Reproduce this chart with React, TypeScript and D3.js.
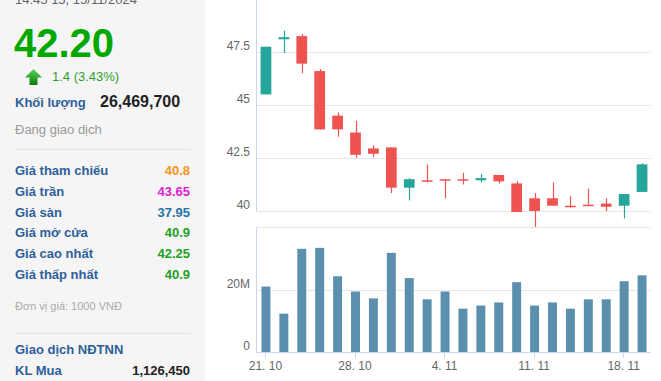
import React from "react";
import * as d3 from "d3";

const dates = [
  "21. 10", "22. 10", "23. 10", "24. 10", "25. 10",
  "28. 10", "29. 10", "30. 10", "31. 10", "1. 11",
  "4. 11", "5. 11", "6. 11", "7. 11", "8. 11",
  "11. 11", "12. 11", "13. 11", "14. 11", "15. 11",
  "18. 11", "19. 11",
];
const opens = [45.5, 48.1, 48.25, 46.6, 44.5, 43.7, 42.95, 43.0, 41.1, 41.45, 41.5, 41.5, 41.45, 41.7, 41.3, 40.6, 40.6, 40.25, 40.3, 40.35, 40.25, 40.9];
const highs = [47.75, 48.5, 48.35, 46.7, 44.65, 44.25, 43.1, 43.0, 41.55, 42.2, 41.5, 41.8, 41.75, 41.7, 41.4, 40.85, 41.35, 40.7, 41.05, 40.6, 40.8, 42.25];
const lows = [45.5, 47.45, 46.5, 43.85, 43.5, 42.5, 42.55, 40.85, 40.5, 41.35, 40.6, 41.25, 41.35, 41.3, 39.95, 39.25, 40.25, 40.15, 40.3, 40.0, 39.65, 40.9];
const closes = [47.75, 48.2, 46.95, 43.85, 43.85, 42.65, 42.7, 41.1, 41.5, 41.45, 41.5, 41.5, 41.55, 41.4, 39.95, 40.0, 40.25, 40.25, 40.3, 40.2, 40.8, 42.2];
const volumes = [21.0, 12.3, 33.1, 33.4, 24.3, 19.4, 17.2, 31.8, 23.7, 16.9, 19.4, 13.9, 14.9, 15.9, 22.4, 14.9, 15.9, 13.9, 16.9, 16.9, 22.7, 24.6];
const priceTicks = [40, 42.5, 45, 47.5];
const volumeTicks = [0, 20, 40];
const xTickIdx = [0, 5, 10, 15, 20];

const infoLabels = ["Giá tham chiếu", "Giá trần", "Giá sàn", "Giá mở cửa", "Giá cao nhất", "Giá thấp nhất"];
const infoValues = ["40.8", "43.65", "37.95", "40.9", "42.25", "40.9"];
const infoColors = ["#f7941d", "#e020d8", "#2573a8", "#1ea01e", "#1ea01e", "#1ea01e"];

const FONT = "Arial, 'Liberation Sans', sans-serif";
const UP = "#26a69a";
const DOWN = "#ef5350";
const VOL = "#5a8fae";
const GRID = "#e6e6e6";
const AXIS = "#ccd6eb";
const LABEL_BLUE = "#2e5f9b";

export default function App() {
  const x0 = 257, x1 = 651;
  const n = dates.length;
  const xc = d3.scaleBand<number>().domain(d3.range(n)).range([x0, x1]).paddingInner(0.4).paddingOuter(0.2);
  const xv = d3.scaleBand<number>().domain(d3.range(n)).range([x0, x1]).paddingInner(0.5).paddingOuter(0.25);
  const cx = (i: number) => (xc(i) as number) + xc.bandwidth() / 2;
  const yP = d3.scaleLinear().domain([40, 50]).range([211, -1]);
  const yV = d3.scaleLinear().domain([0, 40]).range([352, 227.3]);

  return (
    <svg width={661} height={381} style={{ position: "fixed", left: 0, top: 0, background: "#fff" }} fontFamily={FONT}>
      {/* left info panel */}
      <rect x={0} y={0} width={205} height={381} fill="#f5f5f5" />
      <text x={15} y={4} fontSize={13} fill="#666">14:45 15, 15/11/2024</text>
      <text x={14} y={57} fontSize={40} fontWeight="bold" fill="#00a800">42.20</text>
      <defs>
        <linearGradient id="arrowG" x1="0" y1="0" x2="0" y2="1">
          <stop offset="0%" stopColor="#5fd35f" />
          <stop offset="100%" stopColor="#0a7a0a" />
        </linearGradient>
      </defs>
      <path d="M33.5,69 L42,77.5 L37.5,77.5 L37.5,85 L29.5,85 L29.5,77.5 L25,77.5 Z" fill="url(#arrowG)" />
      <text x={52} y={81} fontSize={13} fill="#2ea02e">1.4 (3.43%)</text>
      <text x={15} y={107} fontSize={13} fontWeight="bold" fill={LABEL_BLUE}>Khối lượng</text>
      <text x={100} y={107} fontSize={16} fontWeight="bold" fill="#222">26,469,700</text>
      <text x={15} y={133.5} fontSize={13} fill="#999">Đang giao dịch</text>
      <line x1={15} x2={191} y1={149.5} y2={149.5} stroke="#e4e4e4" />
      {infoLabels.map((l, i) => (
        <g key={l}>
          <text x={15} y={175 + i * 20.8} fontSize={13} fontWeight="bold" fill={LABEL_BLUE}>{l}</text>
          <text x={190} y={175 + i * 20.8} fontSize={13} fontWeight="bold" fill={infoColors[i]} textAnchor="end">{infoValues[i]}</text>
        </g>
      ))}
      <text x={15} y={310} fontSize={11} fill="#aaa">Đơn vị giá: 1000 VNĐ</text>
      <line x1={15} x2={191} y1={333.5} y2={333.5} stroke="#e4e4e4" />
      <text x={15} y={354} fontSize={13} fontWeight="bold" fill={LABEL_BLUE}>Giao dịch NĐTNN</text>
      <text x={15} y={375} fontSize={13} fontWeight="bold" fill={LABEL_BLUE}>KL Mua</text>
      <text x={190} y={375} fontSize={13} fontWeight="bold" fill="#222" textAnchor="end">1,126,450</text>

      {/* price panel */}
      {priceTicks.map((t) => (
        <g key={t}>
          <line x1={x0} x2={x1} y1={Math.round(yP(t)) + 0.5} y2={Math.round(yP(t)) + 0.5} stroke={GRID} />
          <text x={250} y={yP(t) - 2} fontSize={12} fill="#666" textAnchor="end">{String(t)}</text>
        </g>
      ))}
      <line x1={x0 - 0.5} x2={x0 - 0.5} y1={0} y2={yP(40) + 0.5} stroke={AXIS} />
      {dates.map((d, i) => {
        const up = closes[i] > opens[i];
        const col = up ? UP : DOWN;
        const top = yP(Math.max(opens[i], closes[i]));
        const bot = yP(Math.min(opens[i], closes[i]));
        const h = Math.max(bot - top, 1.5);
        const c = Math.round(cx(i)) + 0.5;
        return (
          <g key={d}>
            <line x1={c} x2={c} y1={yP(highs[i])} y2={yP(lows[i])} stroke={col} strokeWidth={1.2} />
            <rect x={xc(i) as number} y={top} width={xc.bandwidth()} height={h} fill={col} />
          </g>
        );
      })}

      {/* volume panel */}
      {volumeTicks.map((t) => (
        <g key={t}>
          <line x1={x0} x2={x1} y1={Math.round(yV(t)) + 0.5} y2={Math.round(yV(t)) + 0.5} stroke={t === 0 ? AXIS : GRID} />
          <text x={250} y={yV(t) - 2} fontSize={12} fill="#666" textAnchor="end">{t === 0 ? "0" : t === 40 ? "" : `${t}M`}</text>
        </g>
      ))}
      <line x1={x0 - 0.5} x2={x0 - 0.5} y1={yV(40)} y2={yV(0) + 0.5} stroke={AXIS} />
      {volumes.map((v, i) => (
        <rect key={i} x={xv(i) as number} y={yV(v)} width={xv.bandwidth()} height={yV(0) - yV(v)} fill={VOL} />
      ))}
      {xTickIdx.map((i) => (
        <g key={i}>
          <line x1={Math.round(cx(i)) - 0.5} x2={Math.round(cx(i)) - 0.5} y1={yV(0)} y2={yV(0) + 6} stroke={AXIS} />
          <text x={cx(i) - 0.5} y={370} fontSize={12} fill="#666" textAnchor="middle">{dates[i]}</text>
        </g>
      ))}
    </svg>
  );
}
